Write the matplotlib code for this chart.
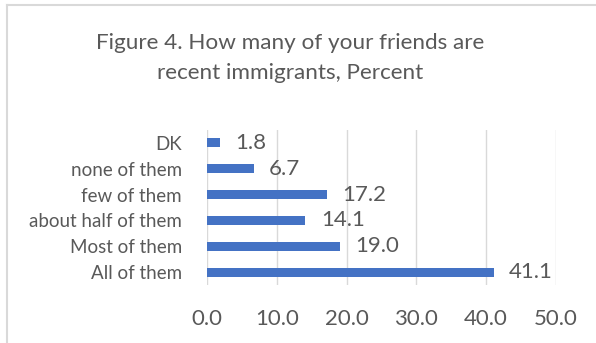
import matplotlib
matplotlib.use('Agg')
from matplotlib import pyplot as plt
from matplotlib.lines import Line2D

categories = ['All of them', 'Most of them', 'about half of them', 'few of them', 'none of them', 'DK']
values = [41.1, 19.0, 14.1, 17.2, 6.7, 1.8]
ticks = [0, 10, 20, 30, 40, 50]

plt.rcParams['font.family'] = ['Lato', 'DejaVu Sans']
grey = '#595959'

fig = plt.figure(figsize=(5.96, 3.43), dpi=100)
ax = fig.add_axes([207 / 596, 1 - 285 / 343, (556 - 207) / 596, (285 - 130) / 343])

ypos = list(range(len(categories)))
ax.barh(ypos, values, height=0.35, color='#4472C4', zorder=3)
for y, v in zip(ypos, values):
    ax.text(v + 2.2, y, f'{v:.1f}', va='center', ha='left', fontsize=16, color=grey)

ax.set_xlim(0, 50)
ax.set_ylim(-0.5, 5.5)
ax.set_xticks(ticks)
ax.set_xticklabels([f'{t:.1f}' for t in ticks], fontsize=16, color=grey)
ax.set_yticks(ypos)
ax.set_yticklabels(categories, fontsize=13.5, color=grey)
ax.tick_params(length=0)
ax.tick_params(axis='x', pad=17)
ax.tick_params(axis='y', pad=18)
ax.grid(axis='x', color='#d9d9d9', linewidth=1, zorder=0)
for s in ax.spines.values():
    s.set_visible(False)

fig.text(290 / 596, 1 - 58 / 343, 'Figure 4. How many of your friends are\nrecent immigrants, Percent',
         ha='center', va='center', fontsize=16.2, color=grey, linespacing=1.6)

# chart border (cut off at right and bottom)
fig.add_artist(Line2D([7 / 596, 7 / 596], [0, 1 - 5 / 343], color='#d9d9d9', linewidth=1.5))
fig.add_artist(Line2D([7 / 596, 1], [1 - 5 / 343, 1 - 5 / 343], color='#d9d9d9', linewidth=1.5))

fig.savefig('out.png', dpi=100)
